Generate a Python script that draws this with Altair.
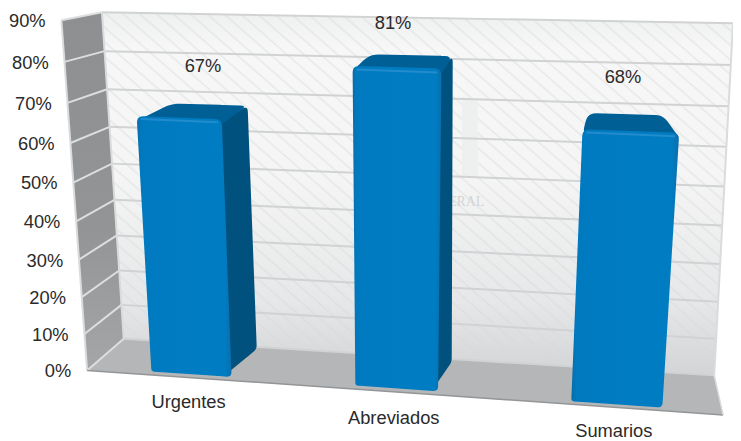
import altair as alt
import pandas as pd

# ---------- values ----------
categories = ["Urgentes", "Abreviados", "Sumarios"]
values = [67, 81, 68]
axis_ticks = [0, 10, 20, 30, 40, 50, 60, 70, 80, 90]
AXIS_MAX = 90

# bar footprints on the floor, as fractions of floor width and depth
bar_u0 = [0.096, 0.419, 0.761]
bar_u1 = [0.223, 0.550, 0.905]
bar_d0 = [0.10, 0.10, 0.08]
bar_d1 = [0.94, 0.92, 0.88]
back_left_skew = [0.010, 0.007, 0.012]
back_right_skew = [0.005, 0.007, -0.012]
# pixel nudge of the two label kinds from their projected anchors
value_label_nudge = [(24, -52), (-4, -45), (-8, -55)]
cat_label_nudge = [(-3, 28), (-3, 30), (-3, 27)]

# frame of the 3D box in page pixels: (front/back)(left/right), bottom and top
FLB, FRB, BLB, BRB = (88, 372), (731, 417), (125, 340), (722, 377)
FLT, FRT, BLT, BRT = (62, 18), (760, 38), (103, 10), (741, 21)
HEIGHT_WARP = 0.08


def lerp(a, b, t):
    return (a[0] + (b[0] - a[0]) * t, a[1] + (b[1] - a[1]) * t)


def proj(u, d, v):
    bottom = lerp(lerp(FLB, FRB, u), lerp(BLB, BRB, u), d)
    top = lerp(lerp(FLT, FRT, u), lerp(BLT, BRT, u), d)
    s = v / AXIS_MAX
    return lerp(bottom, top, s / (1 + HEIGHT_WARP * (1 - s)))


def rounded(poly, r):
    """Convex polygon with its corners (radius per corner) softened."""
    out = []
    n = len(poly)
    for i, p in enumerate(poly):
        rad = r[i] if isinstance(r, (list, tuple)) else r
        if rad == 0:
            out.append(p)
            continue
        a, b = poly[i - 1], poly[(i + 1) % n]
        la = ((a[0] - p[0]) ** 2 + (a[1] - p[1]) ** 2) ** 0.5
        lb = ((b[0] - p[0]) ** 2 + (b[1] - p[1]) ** 2) ** 0.5
        s = lerp(p, a, rad / la)
        e = lerp(p, b, rad / lb)
        for k in range(6):
            t = k / 5
            q0, q1 = lerp(s, p, t), lerp(p, e, t)
            out.append(lerp(q0, q1, t))
    return out


def area_rows(poly):
    """Split a convex polygon into x / y / y2 rows for an area mark."""
    xs = sorted({round(p[0], 3) for p in poly})
    rows = []
    n = len(poly)
    for x in xs:
        ys = []
        for i in range(n):
            a, b = poly[i], poly[(i + 1) % n]
            lo, hi = min(a[0], b[0]), max(a[0], b[0])
            if lo - 0.002 <= x <= hi + 0.002:
                if abs(b[0] - a[0]) < 0.002:
                    ys += [a[1], b[1]]
                else:
                    ys.append(a[1] + (b[1] - a[1]) * (x - a[0]) / (b[0] - a[0]))
        rows.append({"x": x, "y": min(ys), "y2": max(ys)})
    return rows


def clip(p, q, poly):
    """Clip a segment to a convex polygon (clockwise on screen)."""
    t0, t1 = 0.0, 1.0
    n = len(poly)
    d = (q[0] - p[0], q[1] - p[1])
    for i in range(n):
        a, b = poly[i], poly[(i + 1) % n]
        nx, ny = -(b[1] - a[1]), b[0] - a[0]
        num = nx * (p[0] - a[0]) + ny * (p[1] - a[1])
        den = nx * d[0] + ny * d[1]
        if abs(den) < 1e-9:
            if num < 0:
                return None
            continue
        t = -num / den
        if den > 0:
            t0 = max(t0, t)
        else:
            t1 = min(t1, t)
    if t0 >= t1:
        return None
    return lerp(p, q, t0), lerp(p, q, t1)


X = alt.Scale(domain=[8, 741], range=[0, 733])
Y = alt.Scale(domain=[8, 441], range=[0, 433])


def face(poly, fill):
    return (
        alt.Chart(pd.DataFrame(area_rows(poly)))
        .mark_area(fill=fill, interpolate="linear")
        .encode(
            x=alt.X("x:Q", scale=X, axis=None),
            y=alt.Y("y:Q", scale=Y, axis=None),
            y2="y2:Q",
        )
    )


def segs(rows, color, width, opacity=1.0):
    return (
        alt.Chart(pd.DataFrame(rows, columns=["x", "y", "x2", "y2"]))
        .mark_rule(color=color, strokeWidth=width, opacity=opacity)
        .encode(
            x=alt.X("x:Q", scale=X, axis=None),
            y=alt.Y("y:Q", scale=Y, axis=None),
            x2="x2:Q",
            y2="y2:Q",
        )
    )


def texts(rows, align, size=18.5, color="#2a2a2a", font="Liberation Sans", opacity=1.0):
    return (
        alt.Chart(pd.DataFrame(rows))
        .mark_text(align=align, baseline="middle", fontSize=size, font=font, color=color, opacity=opacity)
        .encode(
            x=alt.X("x:Q", scale=X, axis=None),
            y=alt.Y("y:Q", scale=Y, axis=None),
            text="t:N",
        )
    )


def grad(stops, x1=0, y1=0, x2=0, y2=1):
    return alt.Gradient(
        gradient="linear", x1=x1, y1=y1, x2=x2, y2=y2,
        stops=[alt.GradientStop(offset=o, color=c) for o, c in stops],
    )


layers = []

# ---------- walls and floor ----------
back = [BLT, BRT, BRB, BLB]
left = [FLT, BLT, BLB, FLB]
floor = [BLB, BRB, FRB, FLB]

layers.append(face(back, grad([(0, "#eeefef"), (0.1, "#f7f7f7"), (0.45, "#f5f5f5"), (0.8, "#e6e7e8"), (1, "#d2d4d5")])))

hatch = []
for i in range(-30, 60):
    x0 = 60 + i * 17
    c = clip((x0, 0), (x0 + 480, 420), back)
    if c:
        hatch.append({"x": c[0][0], "y": c[0][1], "x2": c[1][0], "y2": c[1][1]})
layers.append(segs(hatch, "#d8d9da", 1.8, 0.4))

# faint watermark behind the bars
layers.append(face([(467, 96), (483, 97), (483, 178), (467, 177)], "#eeefef"))
layers.append(texts([{"x": 453, "y": 202, "t": "ERAL"}], "left", size=14, color="#d3d4d4", font="Liberation Serif"))

layers.append(face(left, grad([(0, "#8d8f91"), (0.6, "#929496"), (1, "#a4a6a7")])))
layers.append(face(floor, "#b4b6b7"))

grid_back, grid_left = [], []
for v in axis_ticks:
    a, b = proj(0, 1, v), proj(1, 1, v)
    grid_back.append({"x": a[0], "y": a[1], "x2": b[0], "y2": b[1]})
    c = proj(0, 0, v)
    grid_left.append({"x": c[0], "y": c[1], "x2": a[0], "y2": a[1]})
layers.append(segs(grid_back, "#d0d2d3", 2))
layers.append(segs(grid_left, "#dcdedf", 2))

edges = []
for p, q in [(FLT, FLB), (BLT, BLB), (BRT, BRB)]:
    edges.append({"x": p[0], "y": p[1], "x2": q[0], "y2": q[1]})
layers.append(segs(edges, "#d9dbdc", 2))
layers.append(segs([{"x": FLB[0], "y": FLB[1], "x2": FRB[0], "y2": FRB[1]}], "#939596", 1.5))
layers.append(segs([{"x": BRB[0], "y": BRB[1], "x2": FRB[0], "y2": FRB[1]}], "#d9dadb", 1.5))

# ---------- bars ----------
for u0, u1, d0, d1, skl, skr, h in zip(bar_u0, bar_u1, bar_d0, bar_d1, back_left_skew, back_right_skew, values):
    ftl, ftr = proj(u0, d0, h), proj(u1, d0, h)
    fbl, fbr = proj(u0, d0, 0), proj(u1, d0, 0)
    btl, btr = proj(u0 + skl, d1, h), proj(u1 + skr, d1, h)
    bbr = proj(u1 + skr, d1, 0)
    # the side and top faces run a little under the front face, so no seam shows
    under_t = (ftr[0] - 4, ftr[1] + 4)
    under_b = (fbr[0] - 4, fbr[1] - 4)
    if skr >= 0:
        layers.append(face(rounded([under_t, btr, bbr, under_b], [0, 6, 4, 0]), "#00517d"))
    layers.append(face(
        rounded([(ftl[0], ftl[1] + 5), btl, btr, (ftr[0], ftr[1] + 5)], [7, 9, 8, 2]),
        "#005f95",
    ))
    layers.append(face(
        rounded([ftl, ftr, fbr, fbl], [7, 7, 5, 3]),
        grad([(0, "#0a6ba6"), (0.04, "#0079bf"), (0.5, "#007cc2"), (0.93, "#007cc2"), (1, "#0a6fae")], x1=0, y1=0, x2=1, y2=0),
    ))
    # bevel along the top of the front face
    a, b = lerp(ftl, fbl, 0.012), lerp(ftr, fbr, 0.012)
    layers.append(segs([{"x": a[0] + 4, "y": a[1], "x2": b[0] - 4, "y2": b[1]}], "#2a90cf", 2, 0.8))

# ---------- text ----------
tick_rows = []
for v in axis_ticks:
    p = proj(0, 0, v)
    tick_rows.append({"x": p[0] - 16, "y": p[1] + 1, "t": f"{v}%"})
layers.append(texts(tick_rows, "right"))

val_rows, cat_rows = [], []
for i, name in enumerate(categories):
    um = (bar_u0[i] + bar_u1[i]) / 2
    top = proj(um, bar_d0[i], values[i])
    bot = proj(um, bar_d0[i], 0)
    val_rows.append({"x": top[0] + value_label_nudge[i][0], "y": top[1] + value_label_nudge[i][1], "t": f"{values[i]}%"})
    cat_rows.append({"x": bot[0] + cat_label_nudge[i][0], "y": bot[1] + cat_label_nudge[i][1], "t": name})
layers.append(texts(val_rows, "center"))
layers.append(texts(cat_rows, "center"))

chart = (
    alt.layer(*layers)
    .properties(width=733, height=433, padding=0, autosize=alt.AutoSizeParams(type="none"), background="white")
    .configure_view(stroke=None)
)
chart.save("out.html", embed_options={"renderer": "svg", "actions": False})
